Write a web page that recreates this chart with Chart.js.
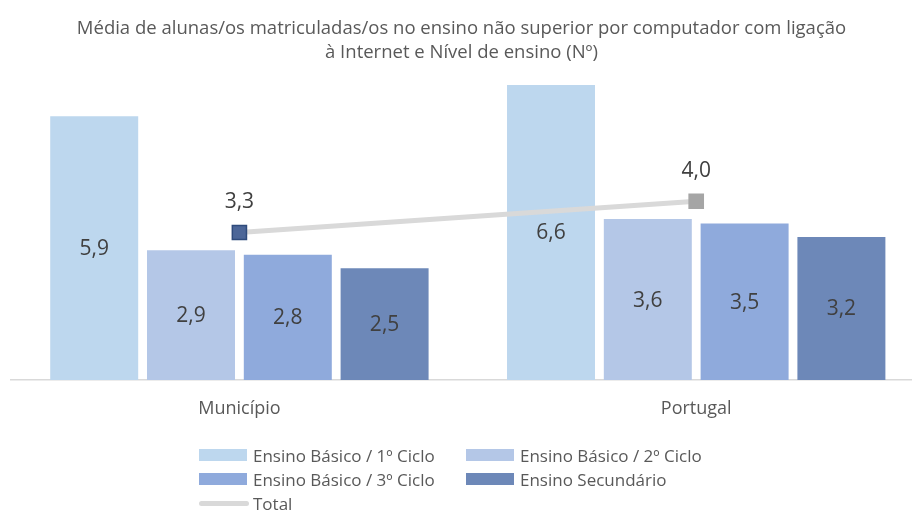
<!DOCTYPE html>
<html>
<head>
<meta charset="utf-8">
<script src="https://cdn.jsdelivr.net/npm/chart.js@4.4.0/dist/chart.umd.min.js"></script>
<style>
  html, body { margin: 0; padding: 0; background: #fff; }
  #wrap { position: relative; width: 912px; height: 510px; }
  #legend { font-family: 'Open Sans', sans-serif; font-size: 17px; color: #595959; }
  .item { position: absolute; display: flex; align-items: center; white-space: nowrap; height: 20px; }
  .swatch { width: 48px; height: 12px; margin-right: 6px; }
  .stroke { width: 50px; height: 5px; border-radius: 3px; margin-right: 4px; }
</style>
</head>
<body>
<div id="wrap">
  <canvas id="chart" width="912" height="510"></canvas>
  <div id="legend"></div>
</div>
<script>
// Categories and series
const categories = ['Município', 'Portugal'];
const seriesNames = ['Ensino Básico / 1º Ciclo', 'Ensino Básico / 2º Ciclo', 'Ensino Básico / 3º Ciclo', 'Ensino Secundário'];
const ciclo1 = [5.9, 6.6];
const ciclo2 = [2.9, 3.6];
const ciclo3 = [2.8, 3.5];
const secundario = [2.5, 3.2];
const totalName = 'Total';
const total = [3.3, 4.0];

const barColors = ['#BDD7EE', '#B4C7E7', '#8FAADC', '#6D88B8'];
const lineColor = '#D9D9D9';
const FONT = "'Open Sans', sans-serif";

const fmt = v => v.toFixed(1).replace('.', ',');
const toPoints = arr => arr.map((v, i) => ({ x: i, y: v }));

// Values written on bars (centred) and above the line markers
const valueLabels = {
    id: 'valueLabels',
    afterDatasetsDraw(chart) {
        const ctx = chart.ctx;
        ctx.save();
        ctx.font = '21px ' + FONT;
        ctx.fillStyle = '#404040';
        ctx.textAlign = 'center';
        ctx.textBaseline = 'middle';
        chart.data.datasets.forEach((ds, i) => {
            const meta = chart.getDatasetMeta(i);
            meta.data.forEach((el, j) => {
                const text = fmt(ds.data[j].y);
                if (ds.type === 'line') {
                    ctx.fillText(text, el.x, el.y - 30);
                } else {
                    ctx.fillText(text, el.x, (el.y + el.base) / 2 + 1);
                }
            });
        });
        ctx.restore();
    }
};

const barSeries = [ciclo1, ciclo2, ciclo3, secundario];
const datasets = barSeries.map((arr, k) => ({
    type: 'bar',
    label: seriesNames[k],
    data: toPoints(arr),
    backgroundColor: barColors[k],
    borderWidth: 0,
    barPercentage: 0.909,
    categoryPercentage: 0.8476,
    order: 1
}));
datasets.push({
    type: 'line',
    label: totalName,
    data: toPoints(total),
    borderColor: lineColor,
    borderWidth: 5,
    pointStyle: 'rect',
    pointRadius: 10,
    pointBackgroundColor: ['#4C6698', '#A5A5A5'],
    pointBorderColor: ['#2F4B7C', '#A5A5A5'],
    pointBorderWidth: 1.5,
    order: 0
});

new Chart(document.getElementById('chart').getContext('2d'), {
    type: 'bar',
    data: { datasets },
    plugins: [valueLabels],
    options: {
        responsive: false,
        animation: false,
        layout: { autoPadding: false, padding: { left: 11, right: 0, top: 0, bottom: 0 } },
        plugins: {
            legend: { display: false },
            tooltip: { enabled: false },
            title: {
                display: true,
                text: [
                    'Média de alunas/os matriculadas/os no ensino não superior por computador com ligação',
                    'à Internet e Nível de ensino (Nº)'
                ],
                color: '#595959',
                font: { family: FONT, size: 18.5, weight: 'normal', lineHeight: 1.3 },
                padding: { top: 17, bottom: 2 }
            }
        },
        scales: {
            x: {
                type: 'linear',
                offset: false,
                min: -0.5,
                max: 1.4724,
                afterBuildTicks: s => { s.ticks = categories.map((c, i) => ({ value: i })); },
                afterFit: s => {
                    s.height = 130;
                    s.paddingLeft = 0;
                    s.paddingRight = 0;
                },
                ticks: {
                    callback: v => categories[v],
                    color: '#595959',
                    font: { family: FONT, size: 18 },
                    padding: 18,
                    maxRotation: 0
                },
                grid: { display: false, drawTicks: false },
                border: { color: '#D9D9D9', width: 1.5 }
            },
            y: {
                display: false,
                min: 0,
                max: 7
            }
        }
    }
});

// Legend laid out in two columns, with the line entry on its own row
const legend = document.getElementById('legend');
const legendItems = seriesNames.map((name, k) => ({ name, color: barColors[k], line: false }));
legendItems.push({ name: totalName, color: lineColor, line: true });
const colX = [199, 466];
const rowY = [445, 469, 493];
legendItems.forEach((it, k) => {
    const el = document.createElement('div');
    el.className = 'item';
    el.style.left = colX[k % 2] + 'px';
    el.style.top = rowY[Math.floor(k / 2)] + 'px';
    const mark = document.createElement('span');
    mark.className = it.line ? 'stroke' : 'swatch';
    mark.style.background = it.color;
    const label = document.createElement('span');
    label.textContent = it.name;
    el.appendChild(mark);
    el.appendChild(label);
    legend.appendChild(el);
});
</script>
</body>
</html>
